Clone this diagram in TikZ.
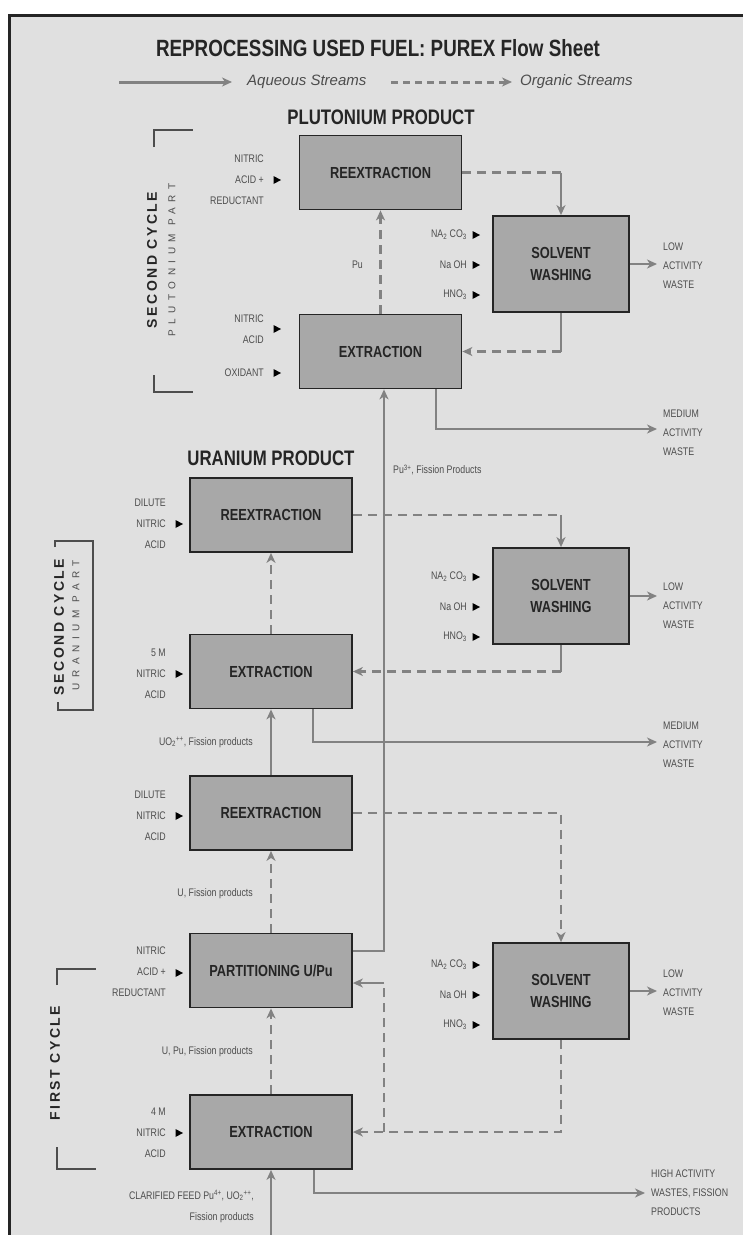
\documentclass[tikz,border=0pt]{standalone}
\usepackage{fontspec}
\setmainfont{Liberation Sans}[FakeStretch=0.8]
\newfontfamily\legendfont{Liberation Sans}
\newfontfamily\cyclefont{Liberation Sans}[LetterSpace=18]
\newfontfamily\partfont{Liberation Sans}[LetterSpace=55]
\usetikzlibrary{arrows.meta,positioning}

\definecolor{Paper}{HTML}{E0E0E0}
\definecolor{BoxGray}{HTML}{A8A8A8}
\definecolor{Ink}{HTML}{252525}
\definecolor{Stream}{HTML}{828282}
\definecolor{Label}{HTML}{4D4D4D}

\begin{document}
\begin{tikzpicture}[x=1pt,y=-1pt]
			\tikzstyle{Unit}	= [rectangle, draw=Ink, line width=1.8pt, fill=BoxGray, minimum width=162pt, minimum height=74pt, inner sep=0pt, align=center, text=Ink, font=\fontsize{16}{22}\selectfont\bfseries]
			\tikzstyle{Washer}	= [Unit, minimum width=136pt, minimum height=96pt]
			\tikzstyle{Head}	= [text=Ink, font=\fontsize{21}{24}\selectfont\bfseries]
			\tikzstyle{Tag}		= [anchor=east, inner sep=0pt, align=right, text=Label, font=\fontsize{11}{21}\selectfont]
			\tikzstyle{Note}	= [anchor=west, inner sep=0pt, text=Label, font=\fontsize{11}{21}\selectfont]
			\tikzstyle{Waste}	= [anchor=west, inner xsep=6pt, inner ysep=0pt, align=left, text=Label, font=\fontsize{11}{19}\selectfont]
			\tikzstyle{Cycle}	= [rotate=90, inner sep=0pt, text=Ink, font=\cyclefont\bfseries\fontsize{14}{16}\selectfont]
			\tikzstyle{Part}	= [rotate=90, inner sep=0pt, text=Label, font=\partfont\fontsize{10}{12}\selectfont]
			\tikzstyle{Key}		= [anchor=west, inner sep=0pt, text=Label, font=\legendfont\itshape\fontsize{15}{18}\selectfont]
			\tikzstyle{Pipe}	= [draw=Stream, line width=2.4pt]
			\tikzstyle{Aq}		= [Pipe, -{Stealth[length=10pt,width=9pt,inset=3pt]}]
			\tikzstyle{OrgPipe}	= [Pipe, dash pattern=on 9pt off 6pt]
			\tikzstyle{Org}		= [Aq, dash pattern=on 9pt off 6pt]
			\tikzstyle{Bracket}	= [draw=Label, line width=2pt]

			\useasboundingbox (0,0) rectangle (743,1235);
			\fill[white] (0,0) rectangle (743,1235);
			\fill[Paper] (9,15) rectangle (743,1235);
			\draw[Ink, line width=3pt] (9,1235) -- (9,15) -- (743,15);

			\node (title) at (378,48) [text=Ink, font=\fontsize{23.5}{28}\selectfont\bfseries] {REPROCESSING USED FUEL: PUREX Flow Sheet};
			\node (aqkey) at (247,82) [Key] {Aqueous Streams};
			\node (orgkey) at (520,82) [Key] {Organic Streams};
			\coordinate (aqtail) at (119,82);
			\coordinate (orgtail) at (391,82);
			\draw[Aq, line width=3pt] (aqtail) -- ([xshift=-15pt]aqkey.west);
			\draw[Org, line width=3pt, dash pattern=on 7pt off 5pt] (orgtail) -- ([xshift=-8pt]orgkey.west);

			\node (puhead) at (381,117) [Head] {PLUTONIUM PRODUCT};
			\node (uhead) at (271,458) [Head] {URANIUM PRODUCT};

			\node (pre) at (380.5,172.5) [Unit] {REEXTRACTION};
			\node (pex) at (380.5,351.5) [Unit] {EXTRACTION};
			\node (psw) at (561,264) [Washer] {SOLVENT\\WASHING};
			\node (ure) at (271,515) [Unit] {REEXTRACTION};
			\node (uex) at (271,671.5) [Unit] {EXTRACTION};
			\node (usw) at (561,596) [Washer] {SOLVENT\\WASHING};
			\node (fre) at (271,813) [Unit] {REEXTRACTION};
			\node (part) at (271,970.5) [Unit] {PARTITIONING U/Pu};
			\node (fsw) at (561,991) [Washer] {SOLVENT\\WASHING};
			\node (fex) at (271,1132) [Unit] {EXTRACTION};

			\node (preIn) at (264,180) [Tag] {NITRIC\\ACID +\\REDUCTANT};
			\node (pexIn) at (264,329) [Tag] {NITRIC\\ACID};
			\node (pexOx) at (264,373) [Tag] {OXIDANT};
			\node (ureIn) at (166,524) [Tag] {DILUTE\\NITRIC\\ACID};
			\node (uexIn) at (166,674) [Tag] {5 M\\NITRIC\\ACID};
			\node (freIn) at (166,816) [Tag] {DILUTE\\NITRIC\\ACID};
			\node (partIn) at (166,972) [Tag] {NITRIC\\ACID +\\REDUCTANT};
			\node (fexIn) at (166,1133) [Tag] {4 M\\NITRIC\\ACID};
			\foreach \top [count=\i] in {235, 577, 965} {
				\node (na\i) at (467,\top) [Tag] {NA\textsubscript{2} CO\textsubscript{3}};
				\node (oh\i) at (467,\top+30) [Tag] {Na OH};
				\node (hn\i) at (467,\top+60) [Tag] {HNO\textsubscript{3}};
			}
			\foreach \x/\y in {277/180, 277/329, 277/373, 179/524, 179/674, 179/816, 179/973, 179/1133, 476/235, 476/265, 476/295, 476/577, 476/607, 476/637, 476/965, 476/995, 476/1025}
				\fill (\x,\y) ++(-3.5,-4) -- ++(7.5,4) -- ++(-7.5,4) -- cycle;

			\node (plow) at (657,266) [Waste] {LOW\\ACTIVITY\\WASTE};
			\node (pmed) at (657,433) [Waste] {MEDIUM\\ACTIVITY\\WASTE};
			\node (ulow) at (657,606) [Waste] {LOW\\ACTIVITY\\WASTE};
			\node (umed) at (657,745) [Waste] {MEDIUM\\ACTIVITY\\WASTE};
			\node (flow) at (657,993) [Waste] {LOW\\ACTIVITY\\WASTE};
			\node (fhigh) at (645,1193) [Waste] {HIGH ACTIVITY\\WASTES, FISSION\\PRODUCTS};

			\node (puTag) at (363,265) [Tag] {Pu};
			\node (pu3Tag) at (393,470) [Note] {Pu\textsuperscript{3+}, Fission Products};
			\node (uoTag) at (253,742) [Tag] {UO\textsubscript{2}\textsuperscript{++}, Fission products};
			\node (ufpTag) at (253,894) [Tag] {U, Fission products};
			\node (upuTag) at (253,1052) [Tag] {U, Pu, Fission products};
			\node (feedTag) at (254,1206) [Tag] {CLARIFIED FEED Pu\textsuperscript{4+}, UO\textsubscript{2}\textsuperscript{++},\\Fission products};

			\node (pucyc) at (152,260) [Cycle] {SECOND CYCLE};
			\node (pupart) at (172,260) [Part] {PLUTONIUM PART};
			\node (ucyc) at (59,627) [Cycle] {SECOND CYCLE};
			\node (upart) at (76,625) [Part] {URANIUM PART};
			\node (fcyc) at (55,1063) [Cycle] {FIRST CYCLE};
			\draw[Bracket] (154,147) -- (154,130) -- (193,130);
			\draw[Bracket] (154,375) -- (154,392) -- (193,392);
			\draw[Bracket] (55,547) -- (55,541) -- (93,541) -- (93,710) -- (58,710) -- (58,702);
			\draw[Bracket] (57,985) -- (57,969) -- (96,969);
			\draw[Bracket] (57,1147) -- (57,1169) -- (96,1169);

			\coordinate (pturn) at (psw.north |- pre.east);
			\coordinate (pback) at (psw.south |- pex.east);
			\draw[OrgPipe] (pre.east) -- (pturn);
			\draw[Aq] (pturn) -- (psw.north);
			\draw[Pipe] (psw.south) -- (pback);
			\draw[Org] (pback) -- (pex.east);
			\draw[Org] (pex.north) -- (pre.south);
			\draw[Aq] (psw.east) -- (psw.east -| plow.west);
			\draw[Aq] ([xshift=55.5pt]pex.south) |- ([yshift=4pt]pmed.west);

			\coordinate (uturn) at (usw.north |- ure.east);
			\coordinate (uback) at (usw.south |- uex.east);
			\draw[OrgPipe] (ure.east) -- (uturn);
			\draw[Aq] (uturn) -- (usw.north);
			\draw[Pipe] (usw.south) -- (uback);
			\draw[Org] (uback) -- (uex.east);
			\draw[Org] (uex.north) -- (ure.south);
			\draw[Aq] (usw.east) -- (usw.east -| ulow.west);
			\draw[Aq] ([xshift=42pt]uex.south) |- ([yshift=3pt]umed.west);
			\draw[Aq] (fre.north) -- (uex.south);

			\draw[Org] (fre.east) -| (fsw.north);
			\draw[Org] (part.north) -- (fre.south);
			\draw[Org] (fex.north) -- (part.south);
			\draw[Org] (fsw.south) |- (fex.east);
			\coordinate (fjoin) at (384,1132);
			\coordinate (fup) at (384,983);
			\draw[OrgPipe] (fjoin) -- (fup);
			\draw[Aq] (fup) -- (fup -| part.east);
			\draw[Aq] ([yshift=19.5pt]part.east) -| ([xshift=3.5pt]pex.south);
			\draw[Aq] (fsw.east) -- (fsw.east -| flow.west);
			\draw[Aq] ([xshift=43pt]fex.south) |- (fhigh.west);
			\coordinate (feed) at (271,1235);
			\draw[Aq] (feed) -- (fex.south);
		\end{tikzpicture}
\end{document}
